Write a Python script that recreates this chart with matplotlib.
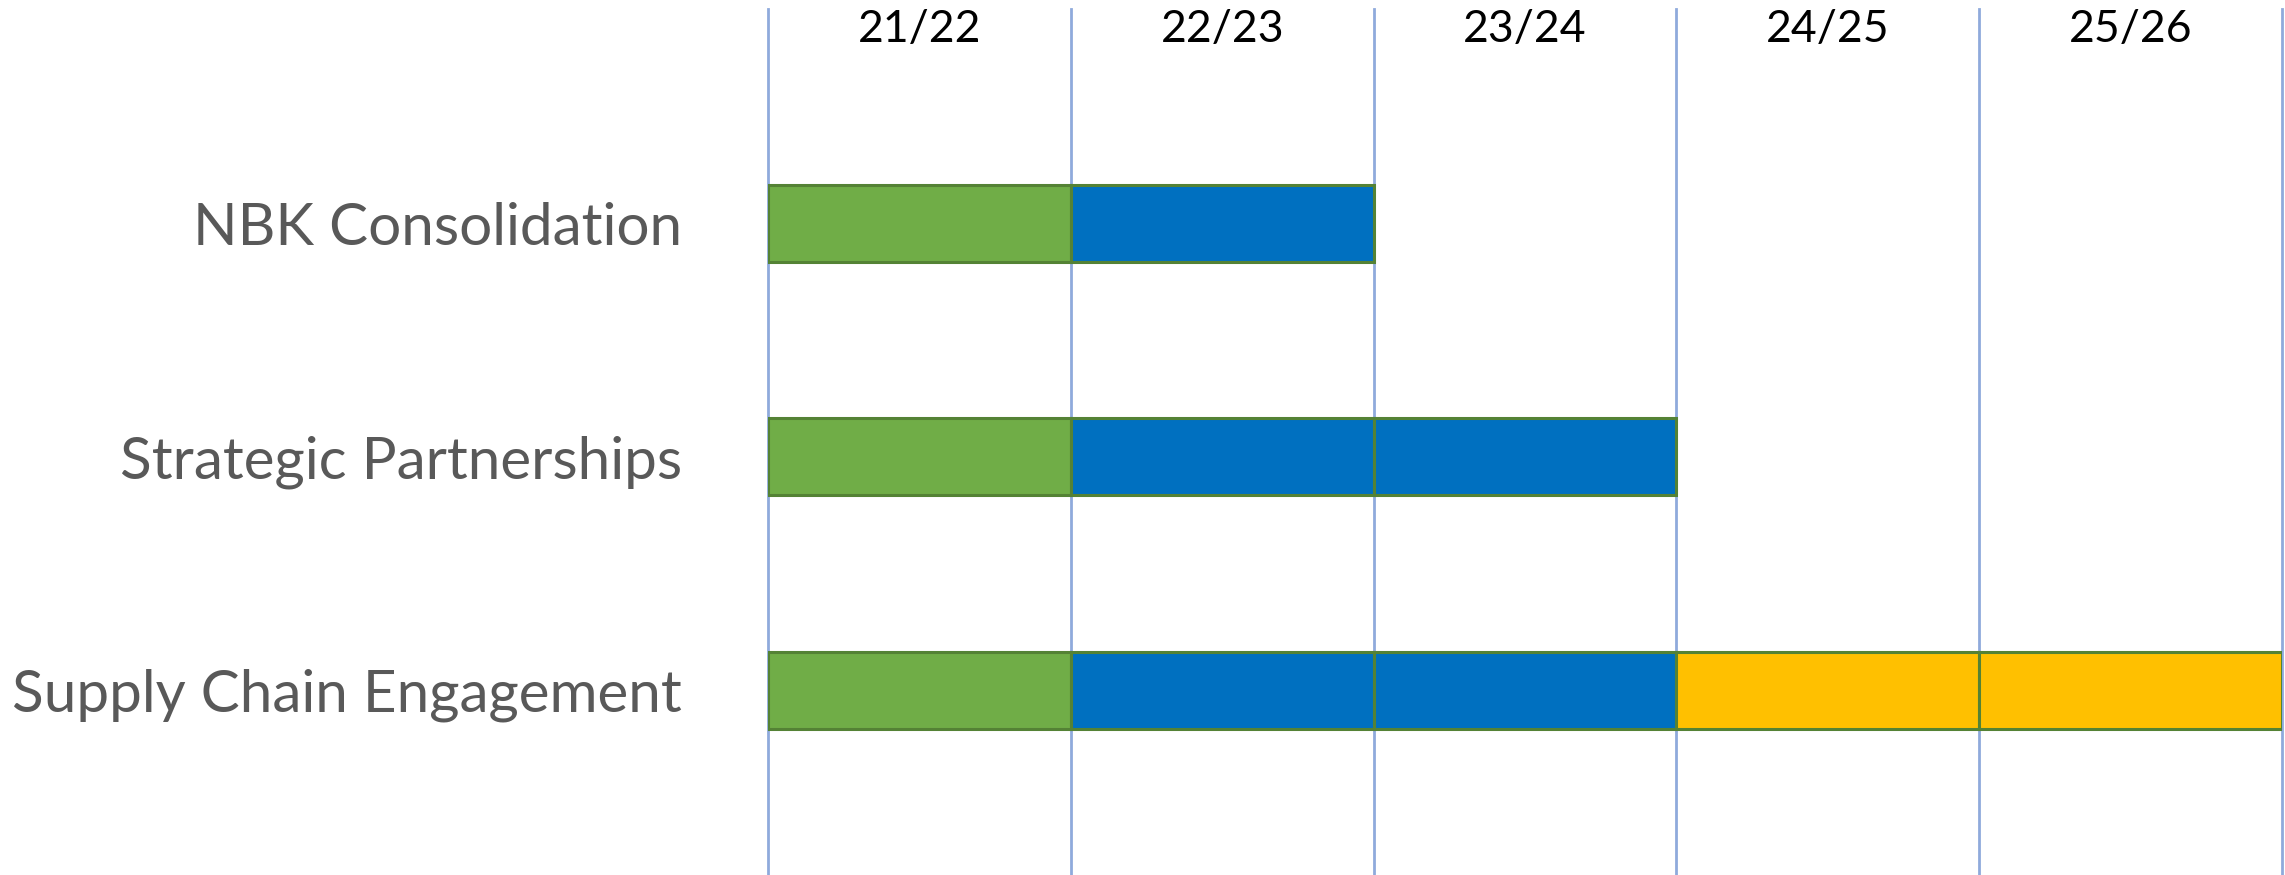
import matplotlib
matplotlib.use('Agg')
import matplotlib.pyplot as plt

years = ['21/22', '22/23', '23/24', '24/25', '25/26']
tasks = ['NBK Consolidation', 'Strategic Partnerships', 'Supply Chain Engagement']
# phase of each task per year: g = green, b = blue, y = yellow
phases = [
    ['g', 'b'],
    ['g', 'b', 'b'],
    ['g', 'b', 'b', 'y', 'y'],
]
colors = {'g': '#70AD47', 'b': '#0070C0', 'y': '#FFC000'}

plt.rcParams['font.family'] = ['Lato', 'DejaVu Sans']

fig = plt.figure(figsize=(22.85, 8.75), dpi=100)
ax = fig.add_axes([768 / 2285, 0, 1514 / 2285, 1 - 9 / 875])

# year grid lines
for i in range(len(years) + 1):
    ax.axvline(i, color='#8FAADC', linewidth=2, zorder=1, clip_on=False)

# bars, one rectangle per year
for row, segs in enumerate(phases):
    for i, p in enumerate(segs):
        ax.barh(row, 1, left=i, height=0.33, color=colors[p],
                edgecolor='#548235', linewidth=2.2, zorder=2)

# year labels at top
for i, y in enumerate(years):
    ax.text(i + 0.5, -0.83, y, ha='center', va='center', fontsize=32, color='black')

ax.set_xlim(0, len(years))
ax.set_ylim(2.792, -0.917)
ax.set_yticks(range(len(tasks)))
ax.set_yticklabels(tasks, fontsize=42, color='#595959')
ax.tick_params(axis='y', length=0, pad=62)
ax.set_xticks([])
for s in ax.spines.values():
    s.set_visible(False)

fig.savefig('out.png', dpi=100)
